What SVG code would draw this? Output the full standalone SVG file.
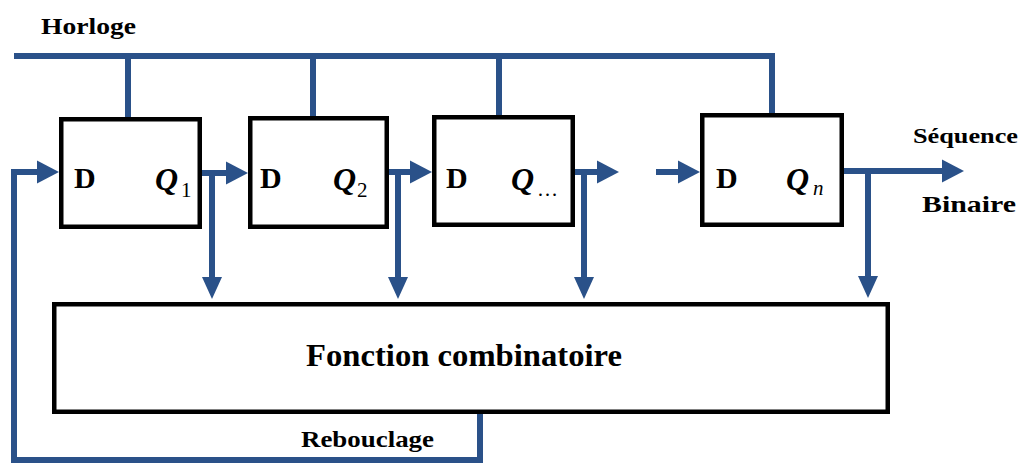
<svg xmlns="http://www.w3.org/2000/svg" xmlns:xlink="http://www.w3.org/1999/xlink" width="1021" height="463" viewBox="0 0 1021 463">
<style>
.w{fill:none;stroke:#2a5189;stroke-width:6}
.box{fill:#fff;stroke:#000;stroke-width:4.5}
.ah{fill:#2a5189}
text{font-family:"Liberation Serif","Times New Roman","DejaVu Serif",serif;fill:#000}
.lbl{font-weight:bold}
.q{font-weight:bold;font-style:italic;font-size:32px}
.sub{font-size:21px}
</style>
<defs>
<path id="ar" d="M-22,-11.5 L0,0 L-22,11.5 z"/>
<path id="ad" d="M-10,-22 L0,0 L10,-22 z"/>
</defs>
<rect width="1021" height="463" fill="#fff"/>
<g id="connectors">
<path class="w" d="M14,56 H772 V113 M128,56 V117 M313,56 V116 M499,56 V115"/>
<path class="w" d="M480,414 V460 H14 V172 H40"/>
<path class="w" d="M202,173 H228 M212,173 V280"/>
<path class="w" d="M389,172 H414 M398,172 V280"/>
<path class="w" d="M575,172 H599 M584,172 V280"/>
<path class="w" d="M656,172 H680"/>
<path class="w" d="M844,171 H944 M868,171 V280"/>
<g class="ah">
<use xlink:href="#ar" x="59" y="172"/>
<use xlink:href="#ar" x="248" y="173"/>
<use xlink:href="#ar" x="432" y="172"/>
<use xlink:href="#ar" x="619" y="172"/>
<use xlink:href="#ar" x="700" y="172"/>
<use xlink:href="#ar" x="964" y="171"/>
<use xlink:href="#ad" x="212" y="299"/>
<use xlink:href="#ad" x="398" y="299"/>
<use xlink:href="#ad" x="584" y="299"/>
<use xlink:href="#ad" x="868" y="298"/>
</g>
</g>
<g id="ff1">
<rect class="box" x="61.25" y="119.25" width="138.5" height="107.5"/>
<text class="lbl" x="74" y="188" font-size="30">D</text>
<text class="q" x="155" y="190">Q</text><text class="sub" x="181" y="197">1</text>
</g>
<g id="ff2">
<rect class="box" x="250.25" y="118.25" width="136.5" height="108.5"/>
<text class="lbl" x="260" y="188" font-size="30">D</text>
<text class="q" x="333" y="190">Q</text><text class="sub" x="357" y="197">2</text>
</g>
<g id="ff3">
<rect class="box" x="434.25" y="117.25" width="138.5" height="107.5"/>
<text class="lbl" x="446" y="188" font-size="30">D</text>
<text class="q" x="511" y="190">Q</text><text class="sub" x="537" y="196" font-size="16">…</text>
</g>
<g id="ffn">
<rect class="box" x="702.25" y="115.25" width="139.5" height="109.5"/>
<text class="lbl" x="716" y="188" font-size="30">D</text>
<text class="q" x="786" y="190">Q</text><text class="sub" x="813" y="195" font-style="italic" font-size="24">n</text>
</g>
<g id="comb">
<rect class="box" x="54.25" y="304.25" width="833.5" height="107.5"/>
<text class="lbl" x="306" y="366" font-size="32" textLength="316" lengthAdjust="spacingAndGlyphs">Fonction combinatoire</text>
</g>
<g id="labels">
<text class="lbl" x="41" y="34" font-size="23" textLength="95" lengthAdjust="spacingAndGlyphs">Horloge</text>
<text class="lbl" x="913" y="143" font-size="22" textLength="105" lengthAdjust="spacingAndGlyphs">Séquence</text>
<text class="lbl" x="922" y="212" font-size="24" textLength="94" lengthAdjust="spacingAndGlyphs">Binaire</text>
<text class="lbl" x="301" y="447" font-size="23" textLength="133" lengthAdjust="spacingAndGlyphs">Rebouclage</text>
</g>
</svg>
